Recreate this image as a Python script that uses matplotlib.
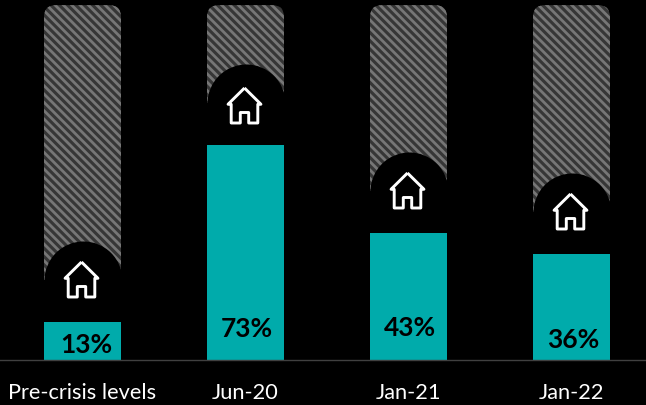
import numpy as np
import matplotlib
matplotlib.use('Agg')
import matplotlib.pyplot as plt
from matplotlib.patches import FancyBboxPatch
from matplotlib.path import Path

categories = ['Pre-crisis levels', 'Jun-20', 'Jan-21', 'Jan-22']
values = [13, 73, 43, 36]
full_height = 120.3

# label heights, in the same units as the bars
label_y = [5.5, 11.0, 11.3, 7.2]
label_dx = [0.021, 0.01, 0.01, 0.01]
house_up = [43, 40, 43, 43]

teal = '#00ABAB'
plt.rcParams['font.family'] = ['Lato', 'DejaVu Sans']
plt.rcParams['hatch.linewidth'] = 2.0

fig = plt.figure(figsize=(6.46, 4.06), dpi=100, facecolor='black')
ax = fig.add_axes([0, 0, 1, 1], facecolor='black')
px_x = 163.0
px_y = 2.95
ax.set_xlim(-82.5 / px_x, (646 - 82.5) / px_x)
ax.set_ylim(-45 / px_y, 361 / px_y)
ax.axis('off')

bar_w = 77 / px_x
circle_up = 42 / px_y

# little house outline used as a marker
house = Path(
    [(0, 1), (0.94, 0.07), (0.76, 0.07), (0.76, -1), (0.24, -1), (0.24, -0.4), (-0.24, -0.4),
     (-0.24, -1), (-0.76, -1), (-0.76, 0.07), (-0.94, 0.07), (0, 1)],
    closed=False)

x = np.arange(len(categories))

for i in x:
    # hatched backdrop with rounded top
    r = 12 / px_x
    r_y = 12 / px_y
    back = FancyBboxPatch((i - bar_w / 2 + r, r_y), bar_w - 2 * r, full_height - 2 * r_y,
                          boxstyle='round,pad=%f,rounding_size=%f' % (r, r),
                          mutation_aspect=px_x / px_y,
                          facecolor='#363636', edgecolor='#767676', hatch='\\\\\\\\', linewidth=0, zorder=1)
    ax.add_patch(back)

    # black cut-out: circle on top of a block reaching down to the bar
    ax.bar(i, values[i] + circle_up, width=bar_w + 0.01, color='black', zorder=2)
    ax.scatter(i, values[i] + circle_up, s=(78 * 0.72) ** 2, c='black', linewidths=0, zorder=3)

    ax.plot(i - 0.008, values[i] + house_up[i] / px_y, marker=house, markersize=35 * 0.72,
            markerfacecolor='none', markeredgecolor='white', markeredgewidth=2.1, zorder=4)

    ax.bar(i, values[i], width=bar_w, color=teal, zorder=5)
    ax.text(i + label_dx[i], label_y[i], '%d%%' % values[i], ha='center', va='center',
            fontsize=19, fontweight='bold', color='black', zorder=6)
    ax.text(i, -32.5 / px_y, categories[i], ha='center', va='center',
            fontsize=15.7, color='white', zorder=6)

ax.axhline(0, color='#404040', linewidth=1, zorder=7)

fig.savefig('out.png', dpi=100, facecolor='black')
